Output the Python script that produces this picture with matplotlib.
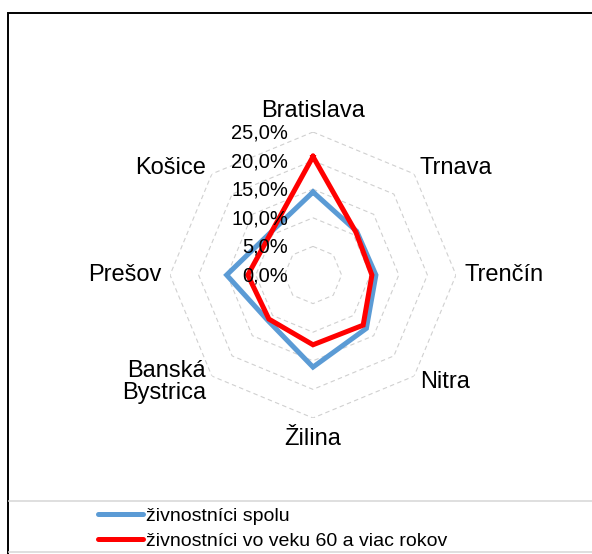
import matplotlib
matplotlib.use("Agg")
import matplotlib.pyplot as plt
import matplotlib.transforms as mtransforms
from matplotlib.patches import Rectangle
from matplotlib.lines import Line2D
import numpy as np

plt.rcParams['font.family'] = ['Liberation Sans', 'DejaVu Sans']

# regions, clockwise from the top
regions = ['Bratislava', 'Trnava', 'Trenčín', 'Nitra', 'Žilina',
           'Banská\nBystrica', 'Prešov', 'Košice']
spolu = [14.5, 10.8, 11.0, 13.2, 16.1, 11.2, 15.1, 10.5]
nad_60 = [20.7, 10.6, 10.3, 12.4, 12.2, 10.9, 11.4, 10.4]
series_names = ['živnostníci spolu', 'živnostníci vo veku 60 a viac rokov']
levels = [0, 5, 10, 15, 20, 25]

fig = plt.figure(figsize=(5.92, 5.54), dpi=100)

# outer frame and legend separators
fig.add_artist(Rectangle((7.5 / 592, -0.1), 1.2, (554 - 12.5) / 554 + 0.1,
                         transform=fig.transFigure, fill=False,
                         edgecolor='black', linewidth=1.4))
for yy in (500.5, 552):
    fig.add_artist(Line2D([8.5 / 592, 1.0], [1 - yy / 554, 1 - yy / 554],
                          transform=fig.transFigure, color='#d9d9d9', lw=1.2))

ax = fig.add_axes([(313 - 143) / 592, (554 - 275 - 143) / 554,
                   286 / 592, 286 / 554], projection='polar')
ax.set_theta_zero_location('N')
ax.set_theta_direction(-1)
ax.set_ylim(0, 25)
ax.grid(False)
ax.spines['polar'].set_visible(False)
ax.set_xticks([])
ax.set_yticks([])
ax.patch.set_alpha(0)

n = len(regions)
angles = np.linspace(0, 2 * np.pi, n, endpoint=False)
closed = np.append(angles, angles[0])

# octagon gridlines
for lv in levels[1:]:
    ax.plot(closed, [lv] * (n + 1), color='#d0d0d0', lw=0.8,
            linestyle=(0, (4, 3)), zorder=1)

ax.plot(closed, spolu + spolu[:1], color='#5b9bd5', lw=3.6,
        solid_joinstyle='miter', zorder=3, label=series_names[0])
ax.plot(closed, nad_60 + nad_60[:1], color='#ff0000', lw=3.6,
        solid_joinstyle='miter', zorder=4, label=series_names[1])

# value axis labels to the left of the top spoke
shifted = mtransforms.offset_copy(ax.transData, fig=fig, x=-25, y=-1,
                                  units='dots')
for lv in levels:
    ax.text(0, lv, f'{lv:.1f}%'.replace('.', ','), transform=shifted,
            ha='right', va='center', fontsize=14.5, zorder=5)

# category labels
for ang, name in zip(angles, regions):
    s = np.sin(ang)
    if abs(s) < 0.01:
        r, ha = 28.6, 'center'
    else:
        r, ha = 26.4, ('left' if s > 0 else 'right')
    ax.text(ang, r, name, ha=ha, va='center', fontsize=17,
            linespacing=1.0, clip_on=False)

handles, labels = ax.get_legend_handles_labels()
leg = fig.legend(handles, labels, loc='upper left',
                 bbox_to_anchor=(84 / 592, 1 - 494 / 554), frameon=False,
                 fontsize=14, handlelength=2.35, handletextpad=0.15,
                 labelspacing=0.38, borderpad=0.2)
for h in leg.legend_handles:
    h.set_solid_capstyle('round')

fig.savefig('out.png', dpi=100)
